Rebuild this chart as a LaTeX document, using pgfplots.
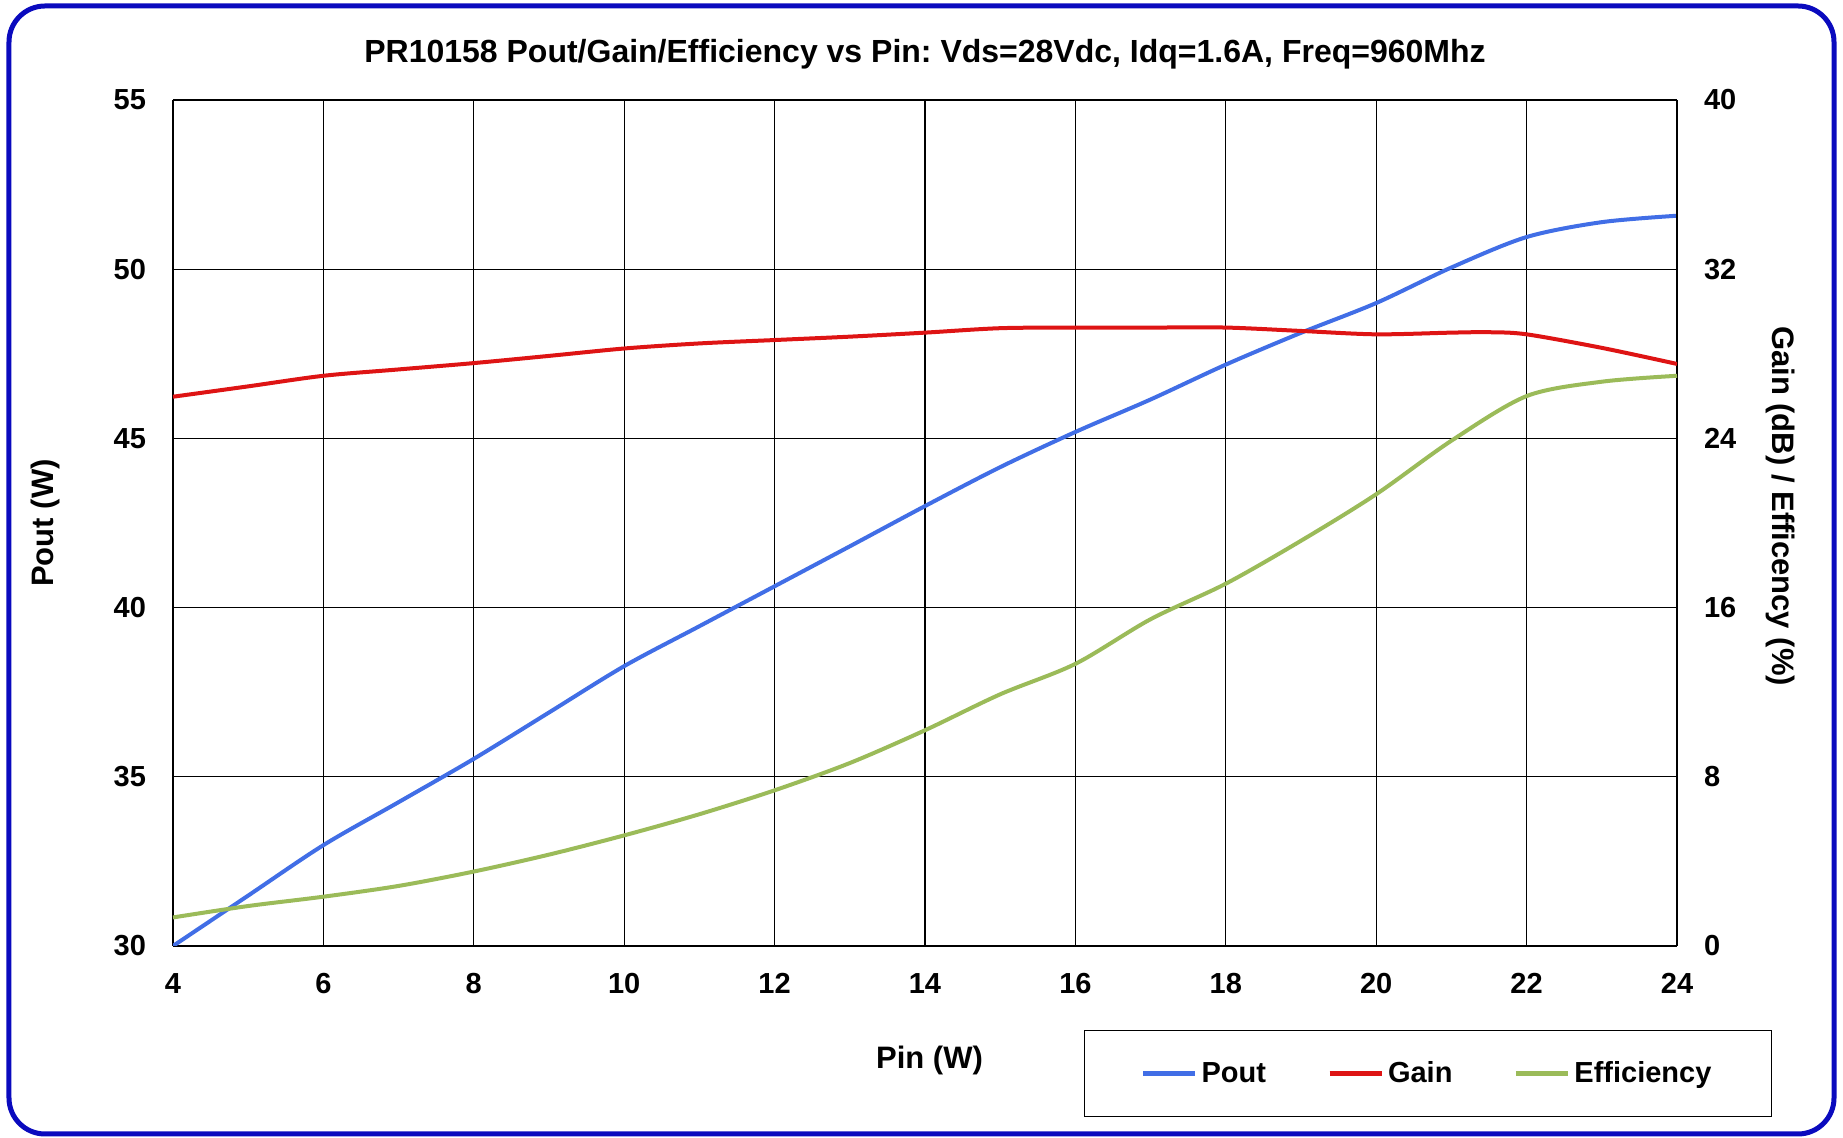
\documentclass[border=0pt]{standalone}
\usepackage{pgfplots}
\pgfplotsset{compat=1.18}
\usepackage{fontspec}
\setmainfont{Liberation Sans}
\frenchspacing
\definecolor{cPout}{RGB}{65,110,230}
\definecolor{cGain}{RGB}{222,20,20}
\definecolor{cEff}{RGB}{155,187,89}
\definecolor{cFrame}{RGB}{10,10,190}
\begin{document}
\begin{tikzpicture}
\path (-86.5pt,-96pt) rectangle (835pt,473pt);
\draw[cFrame, line width=2.5pt, rounded corners=18pt] (-82pt,-94pt) rectangle (830.5pt,470pt);
\pgfplotsset{
  every axis/.append style={
    scale only axis, width=752pt, height=423pt,
    xmin=4, xmax=24, xtick={4,6,...,24},
    tick label style={font=\bfseries\fontsize{14.5}{16}\selectfont},
    /pgf/number format/assume math mode=true,
    label style={font=\bfseries\fontsize{15.5}{18}\selectfont},
    major tick length=0pt,
  }
}
\begin{axis}[
  at={(0,0)}, anchor=south west,
  ymin=30, ymax=55, ytick={30,35,...,55},
  axis y line*=left, axis x line*=bottom,
  grid=major, grid style={black, line width=0.6pt},
  axis line style={black, line width=0.6pt},
  yticklabel style={xshift=-10pt},
  xticklabel style={yshift=-10pt},
  xlabel={Pin (W)}, ylabel={Pout (W)},
  xlabel style={at={(axis description cs:0.503,0)}, anchor=center, yshift=-57pt},
  ylabel style={at={(axis description cs:-0.0851,0.5)}, anchor=center},
  title={PR10158 Pout/Gain/Efficiency vs Pin: Vds=28Vdc, Idq=1.6A, Freq=960Mhz},
  title style={font=\bfseries\fontsize{16}{18}\selectfont, at={(axis description cs:0.5,1)}, anchor=center, yshift=17pt},
]
\addplot[cPout, line width=2pt, smooth, tension=0.5] coordinates {
(4,30.0) (5,31.49) (6,32.98) (7,34.25) (8,35.53) (9,36.9) (10,38.27) (11,39.45) (12,40.63) (13,41.81) (14,43.0) (15,44.15) (16,45.19) (17,46.15) (18,47.18) (19,48.12) (20,49.0) (21,50.05) (22,50.95) (23,51.39) (24,51.58)
};
\end{axis}
\begin{axis}[
  at={(0,0)}, anchor=south west,
  ymin=0, ymax=40, ytick={0,8,...,40},
  axis y line*=right, axis x line=none,
  axis line style={black, line width=0.6pt},
  yticklabel style={xshift=10pt},
  ylabel={Gain (dB) / Efficency (\%)},
  ylabel style={at={(axis description cs:1.0691,0.52)}, anchor=center, rotate=180},
  legend columns=3,
  legend style={at={(axis description cs:0.6057,-0.0993)}, anchor=north west,
    draw=black, line width=0.6pt, font=\bfseries\fontsize{14.5}{16}\selectfont,
    inner xsep=28pt, inner ysep=13.5pt,
    /tikz/every even column/.append style={column sep=28.5pt}},
  legend image code/.code={\draw[#1, line width=2.5pt] (0pt,0pt) -- (26pt,0pt);},
]
\addlegendimage{cPout, line width=2pt}
\addlegendentry{Pout}
\addplot[cGain, line width=2pt, smooth, tension=0.5] coordinates {
(4,25.97) (5,26.46) (6,26.96) (7,27.26) (8,27.56) (9,27.9) (10,28.25) (11,28.49) (12,28.65) (13,28.81) (14,29.0) (15,29.21) (16,29.24) (17,29.24) (18,29.24) (19,29.08) (20,28.92) (21,29.0) (21.5,29.02) (22,28.92) (23,28.28) (24,27.52)
};
\addlegendentry{Gain}
\addplot[cEff, line width=2pt, smooth, tension=0.5] coordinates {
(4,1.35) (5,1.89) (6,2.33) (7,2.84) (8,3.52) (9,4.32) (10,5.23) (11,6.23) (12,7.36) (13,8.65) (14,10.2) (15,11.9) (16,13.34) (17,15.45) (18,17.13) (19,19.16) (20,21.36) (21,23.89) (22,26.0) (23,26.68) (24,26.96)
};
\addlegendentry{Efficiency}
\end{axis}
\end{tikzpicture}
\end{document}
